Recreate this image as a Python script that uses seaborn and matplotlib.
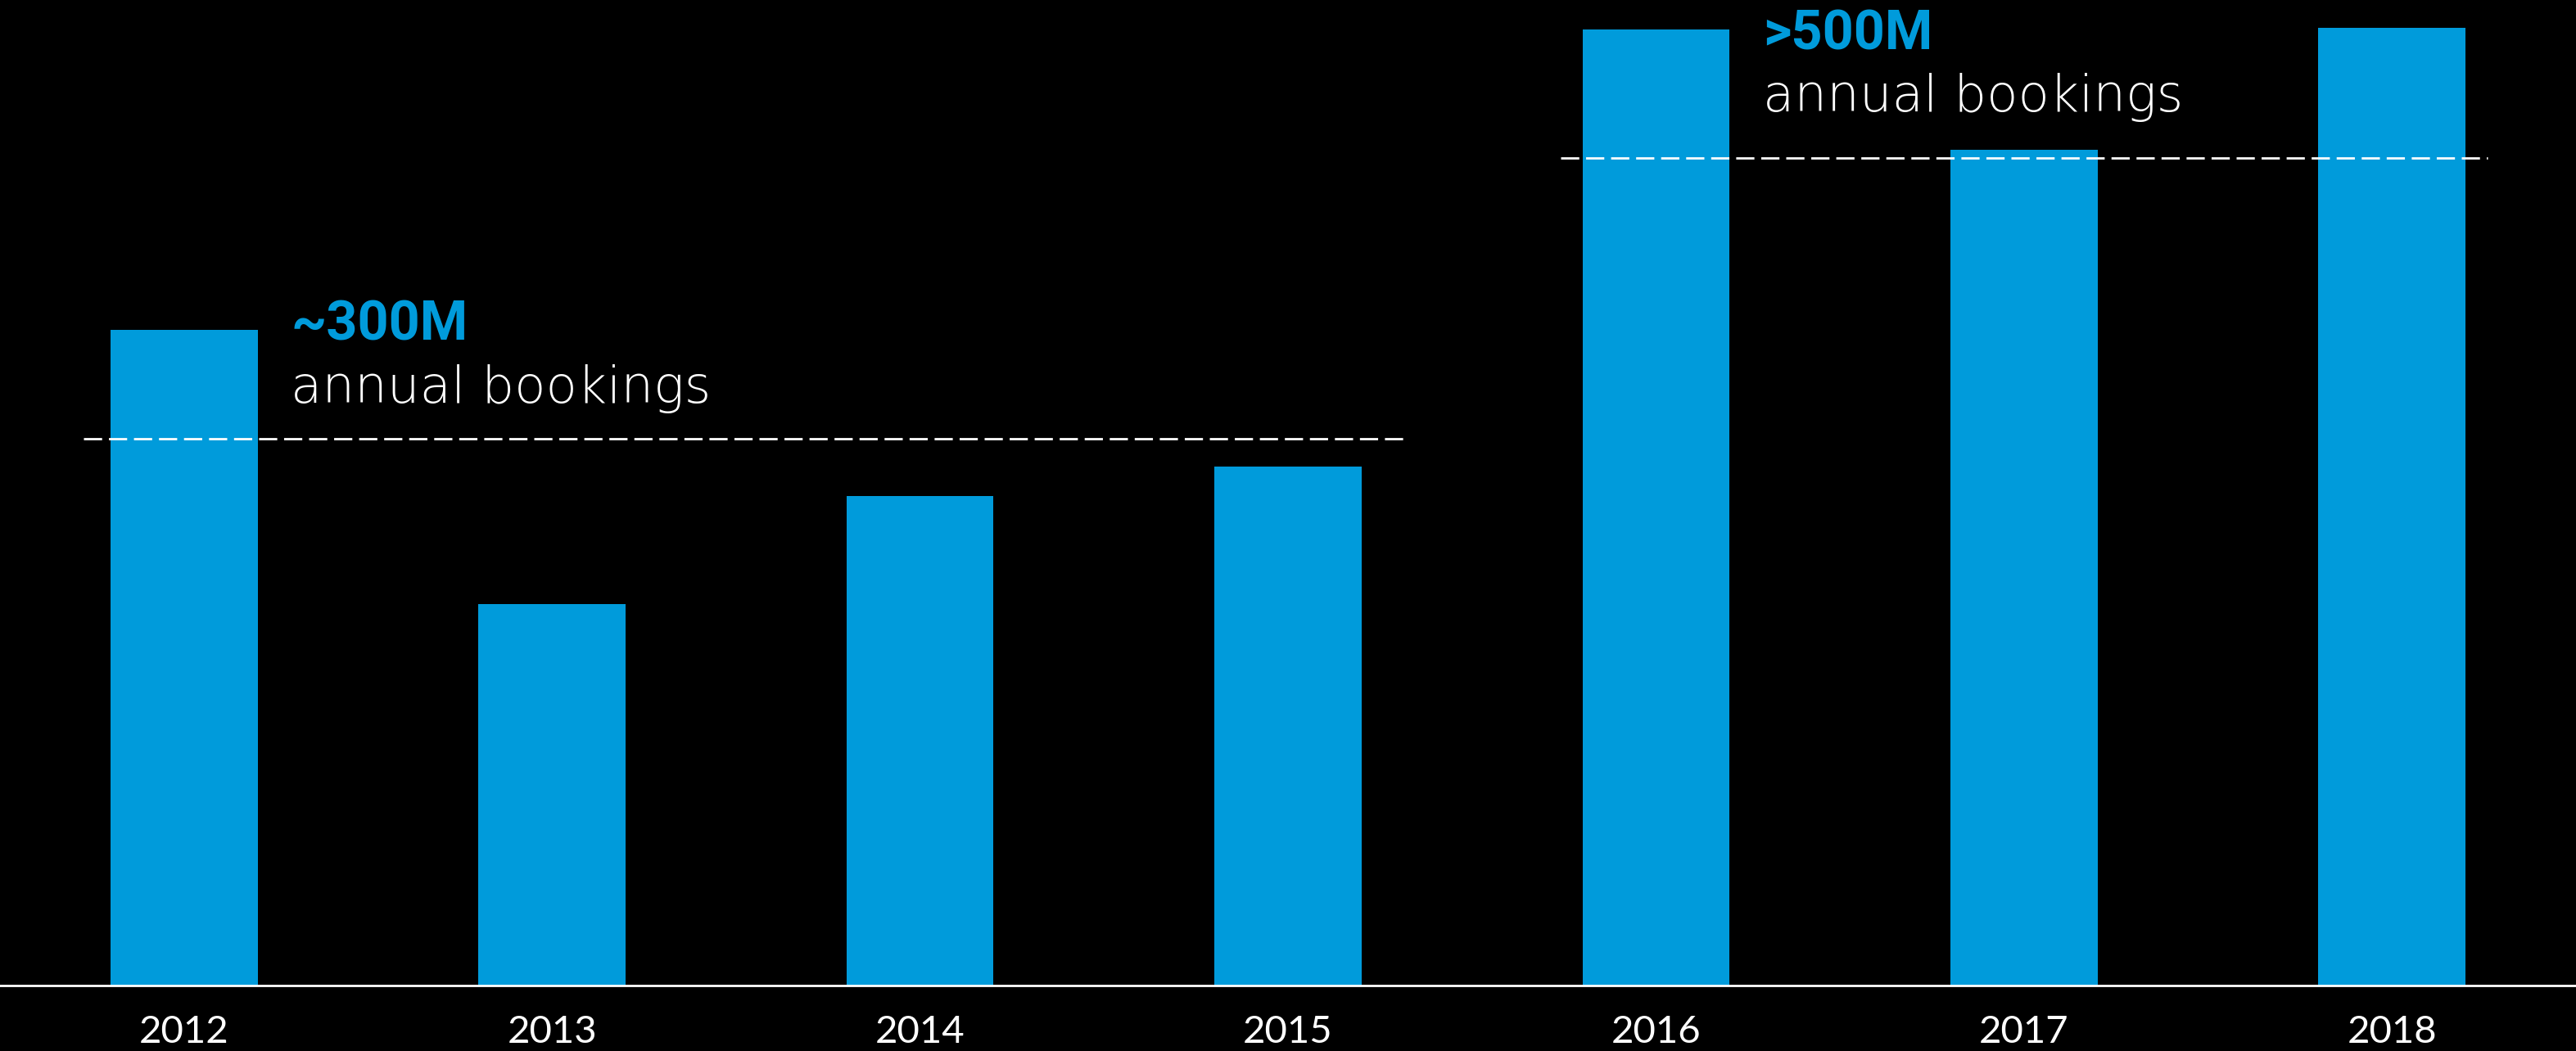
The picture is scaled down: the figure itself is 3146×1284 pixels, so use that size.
import matplotlib
matplotlib.use('Agg')
import matplotlib.pyplot as plt
import seaborn as sns
import pandas as pd

# bar values (arbitrary units, ~millions)
years = ['2012', '2013', '2014', '2015', '2016', '2017', '2018']
bookings = [399, 232, 298, 316, 582, 509, 583]

# reference lines and their notes
ref_levels = [333, 504]
ref_spans = [(-0.272, 3.317), (3.741, 6.259)]
ref_titles = ['~300M', '>500M']
ref_subtitle = 'annual bookings'

blue = '#009BDB'

sns.set_theme(style='white')
plt.rcParams['font.family'] = ['Lato', 'DejaVu Sans']

df = pd.DataFrame({'year': years, 'bookings': bookings})

fig = plt.figure(figsize=(31.46, 12.84), dpi=100, facecolor='black')
ax = fig.add_axes([0, 0.0625, 1, 0.9375])
ax.set_facecolor('black')

sns.barplot(data=df, x='year', y='bookings', color=blue, width=0.4,
            saturation=1, edgecolor='none', linewidth=0, ax=ax)

ax.set_xlim(-0.5, 6.5)
ax.set_ylim(0, 600)

# dashed reference lines
for lvl, (x0, x1) in zip(ref_levels, ref_spans):
    ax.plot([x0, x1], [lvl, lvl], color='white', lw=2, ls=(0, (8, 3)))

# annotations
note_x = [0.29, 4.29]
note_y = [393, 570]
for x, y, t in zip(note_x, note_y, ref_titles):
    ax.text(x, y, t, color=blue, fontsize=48, fontweight='bold',
            family=['Roboto', 'DejaVu Sans'], va='baseline', ha='left')
    ax.text(x, y - 38, ref_subtitle, color='white', fontsize=45,
            fontweight=200, family=['DejaVu Sans'],
            va='baseline', ha='left')

for s in ['top', 'right', 'left']:
    ax.spines[s].set_visible(False)
ax.spines['bottom'].set_color('white')
ax.spines['bottom'].set_linewidth(2)
ax.set_yticks([])
ax.set_xlabel('')
ax.set_ylabel('')
ax.tick_params(axis='x', length=0, pad=26, labelsize=34, labelcolor='white')

fig.savefig('out.png', dpi=100, facecolor='black')
